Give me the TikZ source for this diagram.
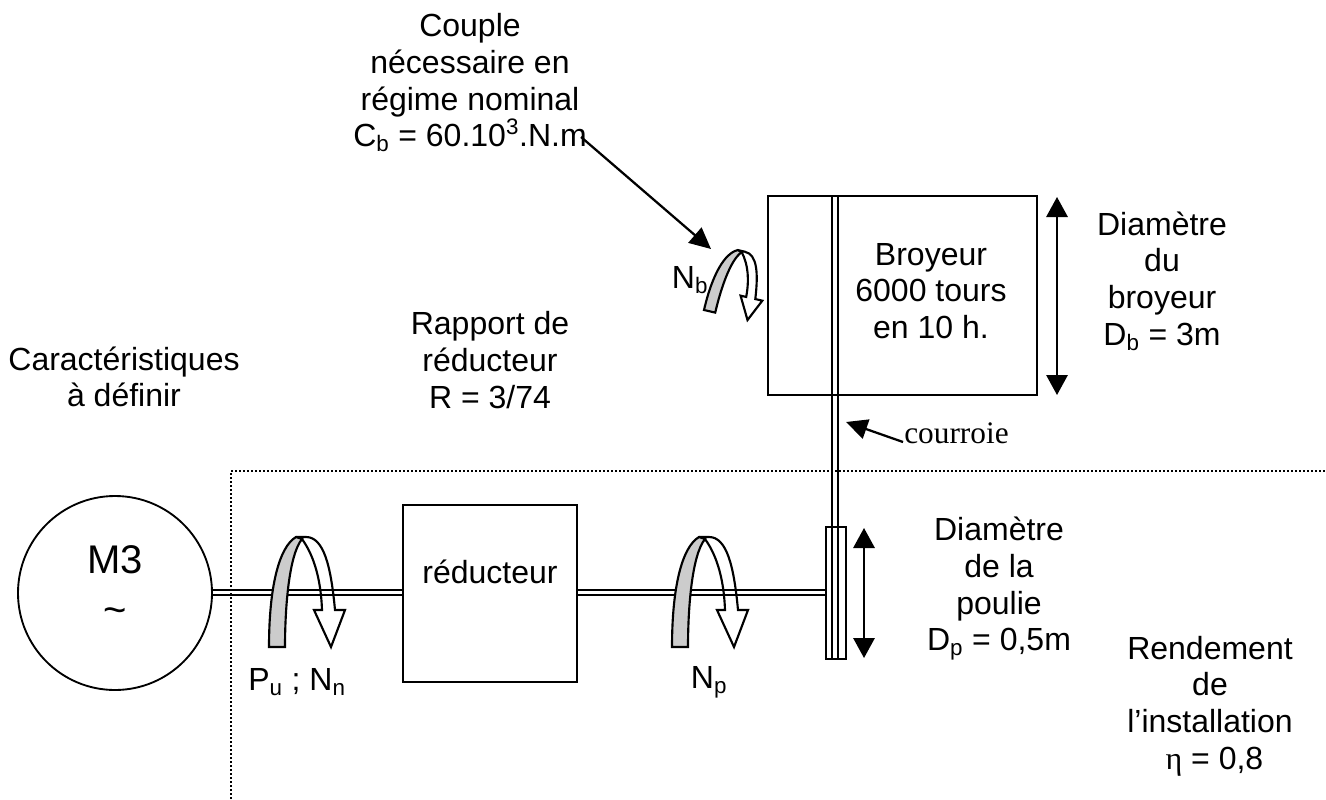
\documentclass[tikz,border=0pt]{standalone}
\usepackage{fontspec}
\setmainfont{Liberation Sans}
\newfontfamily\serifnote{Liberation Serif}
\usetikzlibrary{arrows.meta}

\tikzset{
  bloc/.style={draw,rectangle,line width=1.4pt,inner sep=0pt},
  label/.style={align=center,inner sep=0pt,font=\fontsize{24}{27.5}\selectfont},
  fleche/.style={line width=1.5pt,{Triangle[length=15pt,width=16pt]}-{Triangle[length=15pt,width=16pt]}},
  rappel/.style={line width=1.7pt,-{Triangle[length=16pt,width=15pt]}},
  arbre/.style={line width=1.4pt},
  rotation/.pic={
    \draw[line width=1.6pt] (27,-110) -- (37,-110) .. controls (55,-110) and (62,-80) .. (66,-37) -- (76,-37) -- (62,0) -- (45,-37) -- (53,-37) .. controls (52,-65) and (46,-90) .. (33,-108);
    \draw[line width=1.6pt,fill=black!20] (0,0) .. controls (0,-60) and (10,-100) .. (27,-110) -- (33,-108) .. controls (20,-92) and (16,-40) .. (16,0) -- cycle;
  }
}

\begin{document}
\begin{tikzpicture}[x=0.75pt,y=-0.75pt]
\useasboundingbox (0,0) rectangle (1326,799);

\node[bloc,circle,minimum size=145.5pt](moteur) at (115,593){};
\node[bloc,minimum width=130.5pt,minimum height=132.75pt](reducteur) at (490,593.5){};
\node[bloc,minimum width=201.75pt,minimum height=149.25pt](broyeur) at (902.5,295.5){};
\node[bloc,minimum width=15pt,minimum height=99pt,fill=white](poulie) at (836,593){};

\coordinate (courroieA) at (832,196);
\coordinate (courroieB) at (838,196);
\coordinate (courroieC) at (832,659);
\coordinate (courroieD) at (838,659);
\draw[arbre](courroieA)--(courroieC);
\draw[arbre](courroieB)--(courroieD);

% arbres
\coordinate (m1) at (211,590);
\coordinate (m2) at (211,595);
\coordinate (r1) at (403,590);
\coordinate (r2) at (403,595);
\coordinate (s1) at (577,590);
\coordinate (s2) at (577,595);
\coordinate (p1) at (826,590);
\coordinate (p2) at (826,595);
\draw[arbre](m1)--(r1);
\draw[arbre](m2)--(r2);
\draw[arbre](s1)--(p1);
\draw[arbre](s2)--(p2);

% zone en pointilles
\coordinate (z1) at (231,799);
\coordinate (z2) at (231,471);
\coordinate (z3) at (1326,471);
\draw[line width=1.5pt,dash pattern=on 1.5pt off 1.5pt](z1)--(z2)--(z3);

\pic at (269,647) {rotation};
\pic at (672,647) {rotation};
\pic[rotate=-13,xscale=0.72,yscale=0.6] at (704,310) {rotation};

\node[label,font=\fontsize{30}{37.5}\selectfont](txtmoteur) at (115,585){M3\\\char`\~};
\node[label](couple) at (470,83){Couple\\nécessaire en\\régime nominal\\C\textsubscript{b} = 60.10\textsuperscript{3}.N.m};
\node[label](rapport) at (490,360){Rapport de\\réducteur\\R = 3/74};
\node[label](carac) at (124,377){Caractéristiques\\à définir};
\node[label](txtbroyeur) at (931,291){Broyeur\\6000 tours\\en 10 h.};
\node[label](txtdb) at (1162,281){Diamètre\\du\\broyeur\\D\textsubscript{b} = 3m};
\node[label](txtred) at (490,572){réducteur};
\node[label](txtdp) at (999,589){Diamètre\\de la\\poulie\\D\textsubscript{p} = 0,5m};
\node[label](rendement) at (1210,706){Rendement\\de\\l’installation\\\ {\serifnote η} = 0,8};
\node[label](nb) at (690,280){N\textsubscript{b}};
\node[label](pu) at (297,682){P\textsubscript{u} ; N\textsubscript{n}};
\node[label](np) at (709,682){N\textsubscript{p}};
\node[anchor=west,inner sep=0pt,font=\serifnote\fontsize{23.5}{27}\selectfont](courroie) at (904,433){courroie};

\coordinate (bh) at (1057,197);
\coordinate (bb) at (1057,395);
\coordinate (ph) at (864,528);
\coordinate (pb) at (864,658);
\coordinate (cb) at (581,137);
\coordinate (cbfin) at (711,249);
\coordinate (co) at (903,442);
\coordinate (cofin) at (846,422);
\draw[fleche](bh)--(bb);
\draw[fleche](ph)--(pb);
\draw[rappel](cb)--(cbfin);
\draw[rappel](co)--(cofin);

\end{tikzpicture}
\end{document}
